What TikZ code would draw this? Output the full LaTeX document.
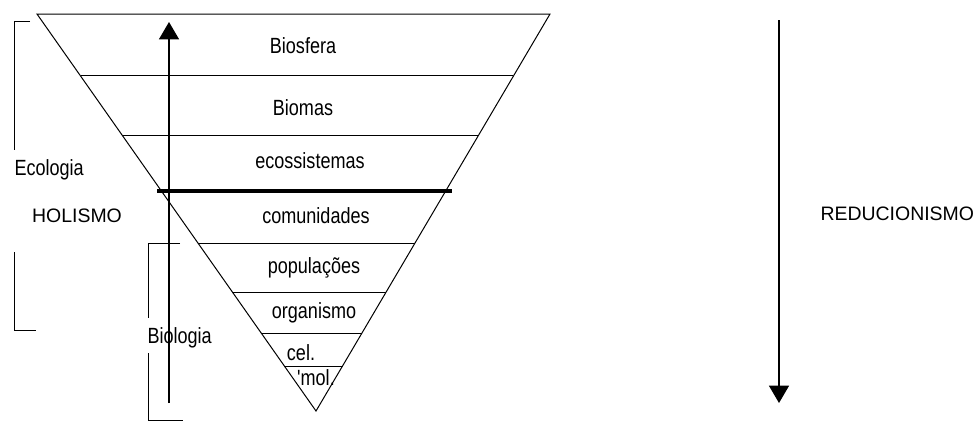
\documentclass[tikz,border=0pt]{standalone}
\usepackage{fontspec}
\setmainfont{Liberation Sans}[Ligatures=TeXOff]
\usetikzlibrary{arrows.meta,calc}
\tikzset{
  level/.style={anchor=base,inner sep=0pt,font=\fontsize{16.5pt}{17pt}\selectfont},
  side/.style={anchor=base,inner sep=0pt,font=\fontsize{14.6pt}{16pt}\selectfont},
  arr/.style={line width=0.9pt,-{Triangle[length=13pt,width=15pt]}}
}
\newcommand{\narrowtext}[1]{\scalebox{0.82}[1]{#1}}
\begin{document}
\begin{tikzpicture}[x=0.75pt,y=-0.75pt,line width=0.75pt]
  \useasboundingbox (0,0) rectangle (980,422);
  % Triangle
  \coordinate (tl) at (37,14);
  \coordinate (tr) at (550,14);
  \coordinate (apex) at (316,411);
  \draw (tl) -- (tr) -- (apex) -- cycle;
  % Levels
  \foreach \y in {76,135,243,292,333,366}
    \draw ($(tl)!{(\y-14)/397}!(apex)$) -- ($(tr)!{(\y-14)/397}!(apex)$);
  \draw[line width=3pt] (157,191) -- (452,191);
  \node[level] (biosfera) at (303,53) {\narrowtext{Biosfera}};
  \node[level] (biomas) at (303,115) {\narrowtext{Biomas}};
  \node[level] (ecossistemas) at (310,168) {\narrowtext{ecossistemas}};
  \node[level] (comunidades) at (316,223) {\narrowtext{comunidades}};
  \node[level] (populacoes) at (314,273) {\narrowtext{populações}};
  \node[level] (organismo) at (314,318) {\narrowtext{organismo}};
  \node[level] (cel) at (301,360) {\narrowtext{cel.}};
  \node[level] (mol) at (316,385) {\narrowtext{'mol.}};
  % Ecologia
  \draw (30,21) -- (14,21) -- (14,150);
  \draw (14,252) -- (14,330) -- (36,330);
  \node[level,anchor=base west] (ecologia) at (14,175) {\narrowtext{Ecologia}};
  % Biologia
  \draw (180,243) -- (148,243) -- (148,318);
  \draw (148,353) -- (148,420) -- (183,420);
  \node[level,anchor=base west] (biologia) at (147,343) {\narrowtext{Biologia}};
  % Arrows
  \coordinate (up-start) at (169,403);
  \coordinate (up-end) at (169,22);
  \draw[arr] (up-start) -- (up-end);
  \coordinate (down-start) at (779,20);
  \coordinate (down-end) at (779,403);
  \draw[arr] (down-start) -- (down-end);
  \node[side] (holismo) at (77,222) {HOLISMO};
  \node[side,anchor=base west] (reducionismo) at (820,220) {REDUCIONISMO};
\end{tikzpicture}
\end{document}
